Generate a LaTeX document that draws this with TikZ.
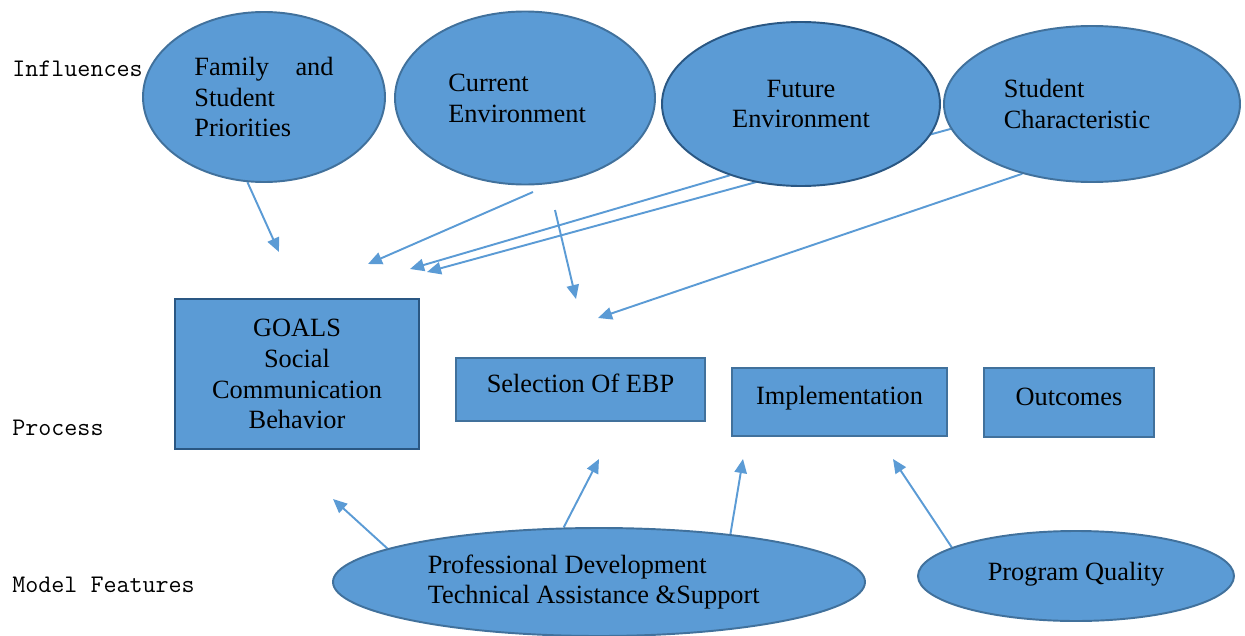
\documentclass[tikz,border=0pt]{standalone}
\usepackage{fontspec}
\setmainfont{Liberation Serif}
\usepackage{tikz}
\usetikzlibrary{shapes.geometric,arrows.meta,backgrounds}
\definecolor{fillblue}{HTML}{5B9BD5}
\definecolor{edgeblue}{HTML}{41719C}
\definecolor{darkedge}{HTML}{2A5783}
\newdimen\px \px=0.02cm
\tikzstyle{myellipse} = [ellipse, draw=edgeblue, fill=fillblue, line width=1.1pt,
    inner sep=0pt, align=left, font=\fontsize{15}{17.6}\selectfont]
\tikzstyle{mybox} = [rectangle, draw=edgeblue, fill=fillblue, line width=1.1pt,
    inner sep=0pt, align=center, font=\fontsize{15}{17.6}\selectfont]
\tikzstyle{sidetitle} = [anchor=base west, inner sep=0pt, font=\ttfamily\fontsize{14.4}{17}\selectfont]
\tikzstyle{myarrow} = [draw=fillblue, line width=1.1pt, -{Triangle[length=8pt,width=7pt]}]

\begin{document}
\begin{tikzpicture}[x=0.02cm,y=-0.02cm]
\useasboundingbox (0,0) rectangle (1245,636);
% row titles
\node[sidetitle] (lblinf) at (12,76) {Influences};
\node[sidetitle] (lblproc) at (12,435) {Process};
\node[sidetitle] (lblmod) at (12,592) {Model Features};
% influences
\node[myellipse, minimum width=242\px, minimum height=170\px] (fam) at (264,97)
    {Family\hspace{15pt}and\\Student\\Priorities};
\node[myellipse, minimum width=260\px, minimum height=173\px] (ce) at (525,98)
    {Current\\Environment\hspace*{9pt}};
\node[myellipse, draw=darkedge, align=center, minimum width=278\px, minimum height=164\px] (fe) at (801,104)
    {Future\\Environment};
\node[myellipse, minimum width=296\px, minimum height=156\px] (sc) at (1092,104)
    {Student\\Characteristic\hspace*{17pt}};
% process
\node[mybox, draw=darkedge, minimum width=244\px, minimum height=150\px] (goals) at (297,374)
    {GOALS\\Social\\Communication\\Behavior};
\node[mybox, text depth=7pt, minimum width=249\px, minimum height=63\px] (sel) at (580.5,389.5) {Selection Of EBP};
\node[mybox, text depth=7pt, minimum width=215\px, minimum height=68\px] (impl) at (839.5,402) {Implementation};
\node[mybox, text depth=7pt, minimum width=170\px, minimum height=69\px] (out) at (1069,402.5) {Outcomes};
% model features
\node[myellipse, minimum width=532\px, minimum height=108\px] (pd) at (599,582)
    {Professional Development\\Technical Assistance \&Support\hspace*{6pt}};
\node[myellipse, text depth=5pt, minimum width=316\px, minimum height=90\px] (pq) at (1076,576) {Program Quality};
% arrow ends
\coordinate (ce1) at (533,192);
\coordinate (ce2) at (555,210);
\coordinate (t1) at (279,252);
\coordinate (t2) at (368,264);
\coordinate (t3) at (576,299);
\coordinate (t4) at (410,269);
\coordinate (t5) at (427,272);
\coordinate (t6) at (598,318);
\coordinate (t7) at (333,499);
\coordinate (t8) at (599,459);
\coordinate (t9) at (743,459);
\coordinate (t10) at (893,459);
\begin{scope}[on background layer]
\draw[myarrow] (fam.-101) -- (t1);
\draw[myarrow] (ce1) -- (t2);
\draw[myarrow] (ce2) -- (t3);
\draw[myarrow] (fe.-135) -- (t4);
\draw[myarrow] (sc.-170) -- (t5);
\draw[myarrow] (sc.-135) -- (t6);
\draw[myarrow] (pd.171.5) -- (t7);
\draw[myarrow] (pd.123) -- (t8);
\draw[myarrow] (pd.20) -- (t9);
\draw[myarrow] (pq.167) -- (t10);
\end{scope}
\end{tikzpicture}
\end{document}
